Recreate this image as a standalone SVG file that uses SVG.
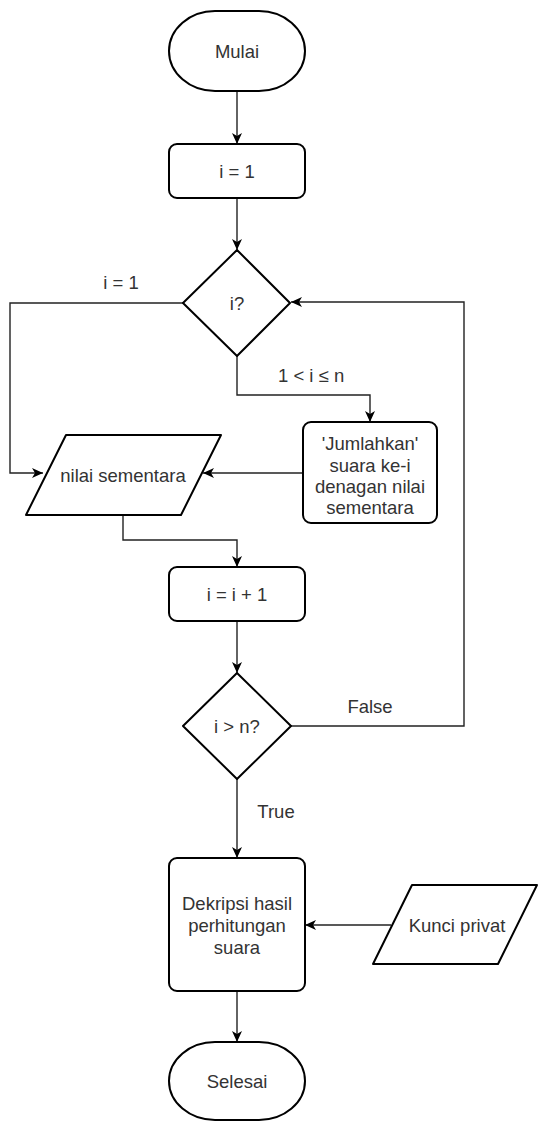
<svg xmlns="http://www.w3.org/2000/svg" width="539" height="1122" viewBox="0 0 539 1122">
<defs>
<style>
.shape{fill:#fff;stroke:#000;stroke-width:2;stroke-linejoin:round}
.conn{fill:none;stroke:#222;stroke-width:1.4}
.t{font-family:"Liberation Sans",Arial,sans-serif;font-size:18.5px;fill:#333;text-anchor:middle}
.lbl{font-family:"Liberation Sans",Arial,sans-serif;font-size:18.5px;fill:#333}
</style>
<marker id="arr" markerUnits="userSpaceOnUse" markerWidth="12" markerHeight="12" viewBox="0 0 12 12" refX="11" refY="5" orient="auto">
<path d="M0,0 L11,5 L0,10 L3,5 Z" fill="#000"/>
</marker>
</defs>
<rect width="539" height="1122" fill="#fff"/>
<g id="connectors">
<path class="conn" d="M237,91 V144" marker-end="url(#arr)"/>
<path class="conn" d="M237,198 V250" marker-end="url(#arr)"/>
<path class="conn" d="M183,303 H10 V473 H43" marker-end="url(#arr)"/>
<path class="conn" d="M237,356 V395 H370 V422" marker-end="url(#arr)"/>
<path class="conn" d="M303,473 H203" marker-end="url(#arr)"/>
<path class="conn" d="M123,515 V540 H237 V567" marker-end="url(#arr)"/>
<path class="conn" d="M237,621 V673" marker-end="url(#arr)"/>
<path class="conn" d="M291,726 H464 V302 H291" marker-end="url(#arr)"/>
<path class="conn" d="M237,779 V858" marker-end="url(#arr)"/>
<path class="conn" d="M391,925 H305" marker-end="url(#arr)"/>
<path class="conn" d="M237,991 V1042" marker-end="url(#arr)"/>
<text class="lbl" x="121" y="289" text-anchor="middle">i = 1</text>
<text class="lbl" x="278" y="382">1 &lt; i ≤ n</text>
<text class="lbl" x="370" y="713" text-anchor="middle">False</text>
<text class="lbl" x="276" y="818" text-anchor="middle">True</text>
</g>
<g id="mulai">
<rect class="shape" x="169" y="11" width="136" height="80" rx="46" ry="40"/>
<text class="t" x="237" y="58">Mulai</text>
</g>
<g id="init">
<rect class="shape" x="169" y="144" width="136" height="54" rx="8"/>
<text class="t" x="237" y="178">i = 1</text>
</g>
<g id="cek-i">
<polygon class="shape" points="237,250 290,303 237,356 183,303"/>
<text class="t" x="237" y="310">i?</text>
</g>
<g id="jumlahkan">
<rect class="shape" x="303" y="422" width="134" height="101" rx="8"/>
<text class="t" x="370" y="450">'Jumlahkan'</text>
<text class="t" x="370" y="472">suara ke-i</text>
<text class="t" x="370" y="493">denagan nilai</text>
<text class="t" x="370" y="514">sementara</text>
</g>
<g id="nilai-sementara">
<polygon class="shape" points="66,435 221,435 181,515 26,515"/>
<text class="t" x="123" y="482">nilai sementara</text>
</g>
<g id="increment">
<rect class="shape" x="169" y="567" width="136" height="54" rx="8"/>
<text class="t" x="237" y="601">i = i + 1</text>
</g>
<g id="cek-n">
<polygon class="shape" points="237,673 291,726 237,779 183,726"/>
<text class="t" x="237" y="733">i &gt; n?</text>
</g>
<g id="dekripsi">
<rect class="shape" x="169" y="858" width="136" height="133" rx="8"/>
<text class="t" x="237" y="910">Dekripsi hasil</text>
<text class="t" x="237" y="932">perhitungan</text>
<text class="t" x="237" y="954">suara</text>
</g>
<g id="kunci-privat">
<polygon class="shape" points="412,885 537,885 498,964 373,964"/>
<text class="t" x="457" y="932">Kunci privat</text>
</g>
<g id="selesai">
<rect class="shape" x="169" y="1042" width="136" height="78" rx="46" ry="39"/>
<text class="t" x="237" y="1088">Selesai</text>
</g>
</svg>
